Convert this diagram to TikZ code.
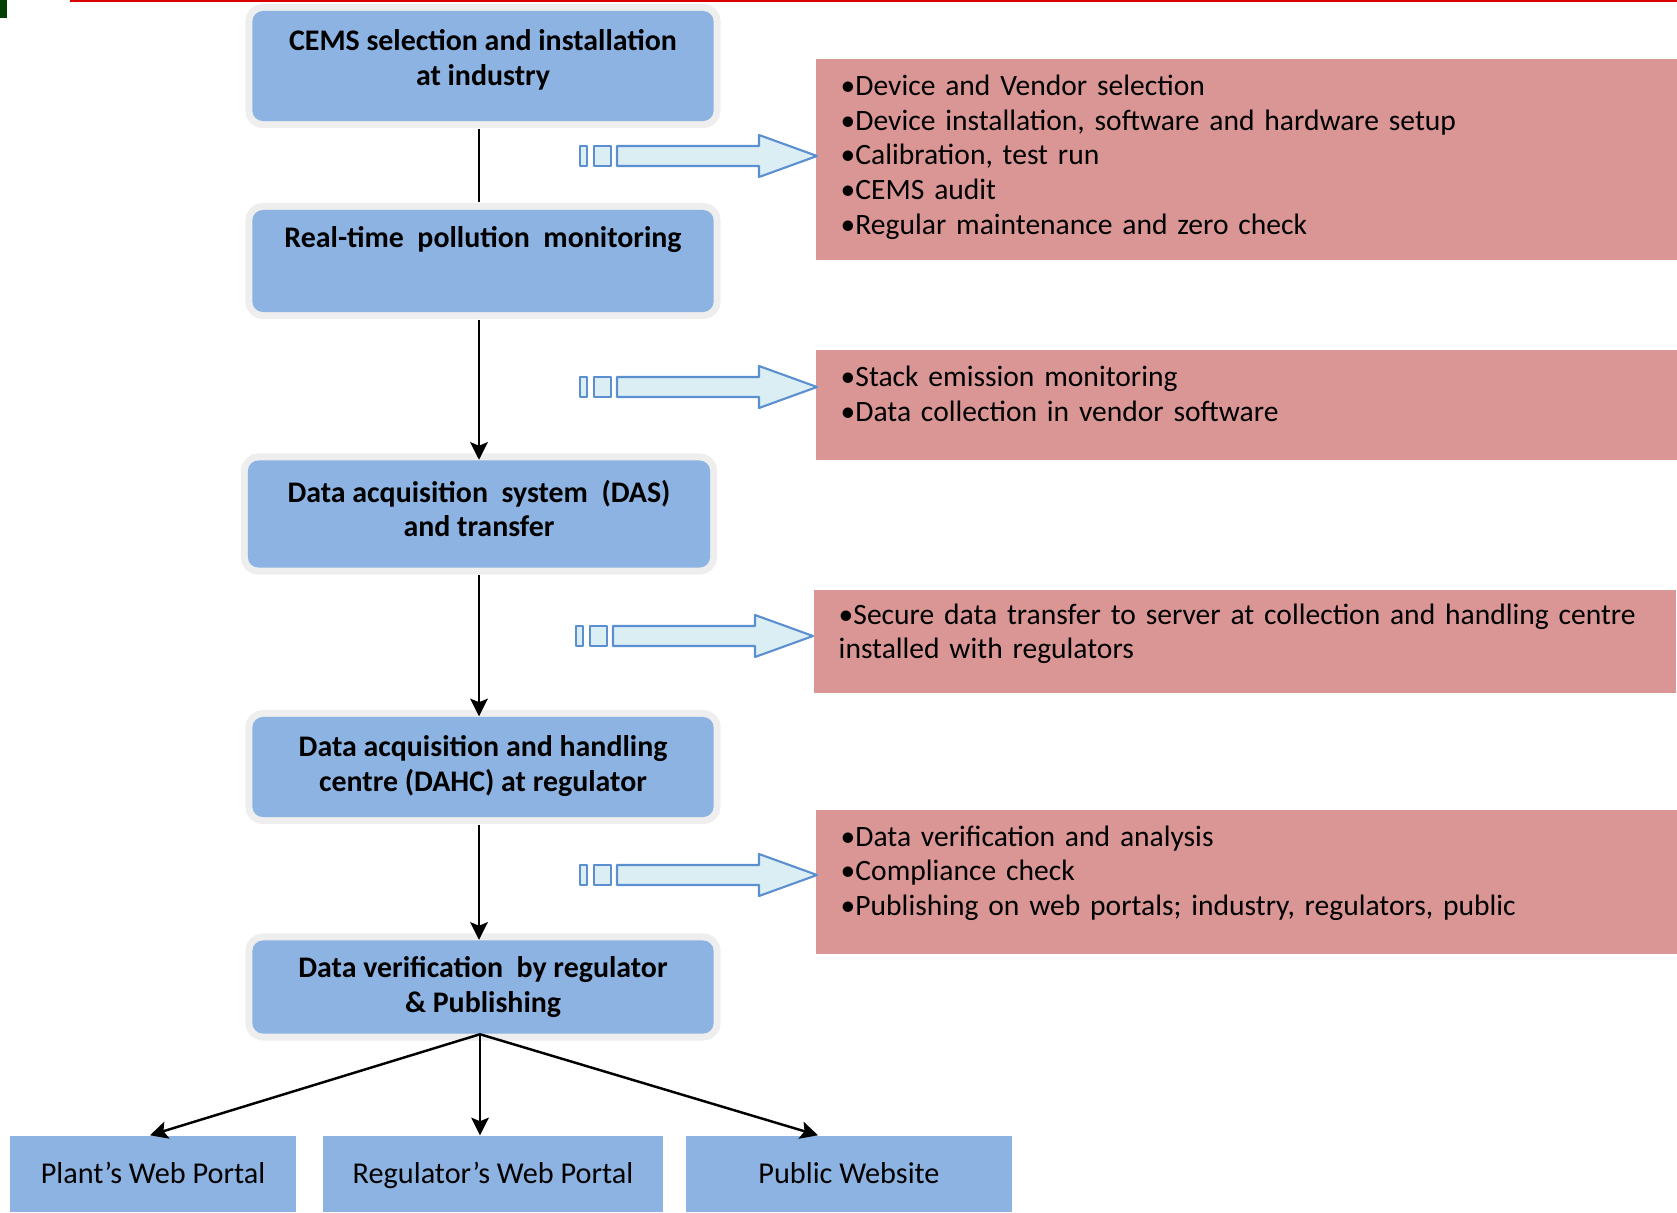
\documentclass[tikz,border=0pt]{standalone}
\usepackage{fontspec}
\setmainfont{Carlito}
\usetikzlibrary{positioning,arrows.meta}

\definecolor{boxblue}{HTML}{8DB3E2}
\definecolor{boxred}{HTML}{D99694}
\definecolor{glow}{HTML}{EEEEEE}
\definecolor{arrfill}{HTML}{DBEEF4}
\definecolor{arrline}{HTML}{5B8FD0}

% hollow block arrow, tip at the given coordinate
\newcommand\blockarr[1]{%
  \begin{scope}[shift={(#1)}]
    \filldraw[hollowarr] (0,0) -- (-58,-21) -- (-58,-10) -- (-200,-10) -- (-200,10) -- (-58,10) -- (-58,21) -- cycle;
    \filldraw[hollowarr] (-223,-10) rectangle (-206,10);
    \filldraw[hollowarr] (-237,-10) rectangle (-230,10);
  \end{scope}}
% extra space below the text of a box
\newcommand\padbot[1]{\par\vspace*{#1}\hrule height 0pt}

\begin{document}
\begin{tikzpicture}[x=0.01cm, y=-0.01cm]

  \tikzset{bluebox/.style={rounded corners=3pt, fill=boxblue, preaction={draw=glow, line width=4pt},
             text width=4.2cm, align=flush center, font=\fontsize{8.5pt}{9.9pt}\selectfont\bfseries},
           redbox/.style={fill=boxred, anchor=north west, text width=8.12cm, inner xsep=0.25cm,
             align=left, font=\fontsize{8.4pt}{9.9pt}\selectfont},
           portal/.style={fill=boxblue, minimum height=0.76cm, text height=0.75em, text depth=0.19em,
             font=\fontsize{8.6pt}{9.9pt}\selectfont},
           flow/.style={line width=0.7pt},
           flowarr/.style={flow, -{Stealth[length=5pt,width=5pt,inset=1pt]}},
           hollowarr/.style={fill=arrfill, draw=arrline, line width=0.6pt, line join=round}}

  \useasboundingbox (0,0) rectangle (1677,1212);
  \fill[green!25!black] (0,0) rectangle (7,18);
  \draw[red!85!black, line width=0.6pt] (70,1) -- (1677,1);

% Steps
	\node[bluebox, minimum width=4.61cm, minimum height=1.10cm] (cems) at (483,66) {CEMS selection and installation\\at industry\padbot{0.13cm}};
	\node[bluebox, minimum width=4.61cm, minimum height=1.02cm] (rtm) at (483,261) {Real-time~ pollution~ monitoring\\\mbox{}\padbot{0.13cm}};
	\node[bluebox, minimum width=4.62cm, minimum height=1.07cm] (das) at (479,514) {Data acquisition~ system~ (DAS)\\and transfer\padbot{0.11cm}};
	\node[bluebox, minimum width=4.61cm, minimum height=1.00cm] (dahc) at (483,767) {Data acquisition and handling\\centre (DAHC) at regulator\padbot{0.02cm}};
	\node[bluebox, minimum width=4.61cm, minimum height=0.93cm] (verif) at (483,987) {Data verification~ by regulator\\\& Publishing};

% Details
	\node[redbox, minimum height=2.01cm] (det1) at (815,58) {\textbullet Device and Vendor selection\\\textbullet Device installation, software and hardware setup\\\textbullet Calibration, test run\\\textbullet CEMS audit\\\textbullet Regular maintenance and zero check\padbot{0.04cm}};
	\node[redbox, minimum height=1.10cm] (det2) at (815,349) {\textbullet Stack emission monitoring\\\textbullet Data collection in vendor software\padbot{0.21cm}};
	\node[redbox, minimum height=1.03cm] (det3) at (813,589) {\textbullet Secure data transfer to server at collection and handling centre\\installed with regulators\padbot{0.15cm}};
	\node[redbox, minimum height=1.44cm] (det4) at (815,809) {\textbullet Data verification and analysis\\\textbullet Compliance check\\\textbullet Publishing on web portals; industry, regulators, public\padbot{0.17cm}};

% Portals
	\node[portal, minimum width=2.85cm] (plantw) at (153,1174) {Plant’s Web Portal};
	\node[portal, minimum width=3.39cm] (regw) at (493,1174) {Regulator’s Web Portal};
	\node[portal, minimum width=3.26cm] (pubw) at (849,1174) {Public Website};

% Block arrows
	\coordinate (tip1) at (817,156);
	\coordinate (tip2) at (817,387);
	\coordinate (tip3) at (813,636);
	\coordinate (tip4) at (817,875);
	\blockarr{tip1}
	\blockarr{tip2}
	\blockarr{tip3}
	\blockarr{tip4}

% Flow
	\coordinate (apex) at ([xshift=-0.03cm]verif.south);
	\draw[flow, shorten <=2pt, shorten >=2pt] (cems.south -| das.north) -- (rtm.north -| das.north);
	\draw[flowarr, shorten <=2pt] (rtm.south -| das.north) -- (das.north);
	\draw[flowarr, shorten <=2pt] (das.south) -- (das.south |- dahc.north);
	\draw[flowarr, shorten <=2pt] (das.south |- dahc.south) -- (das.south |- verif.north);
	\draw[flowarr] (apex) -- ([xshift=-0.03cm]plantw.north);
	\draw[flowarr] (apex) -- (apex |- regw.north);
	\draw[flowarr] (apex) -- ([xshift=-0.31cm]pubw.north);

\end{tikzpicture}
\end{document}
